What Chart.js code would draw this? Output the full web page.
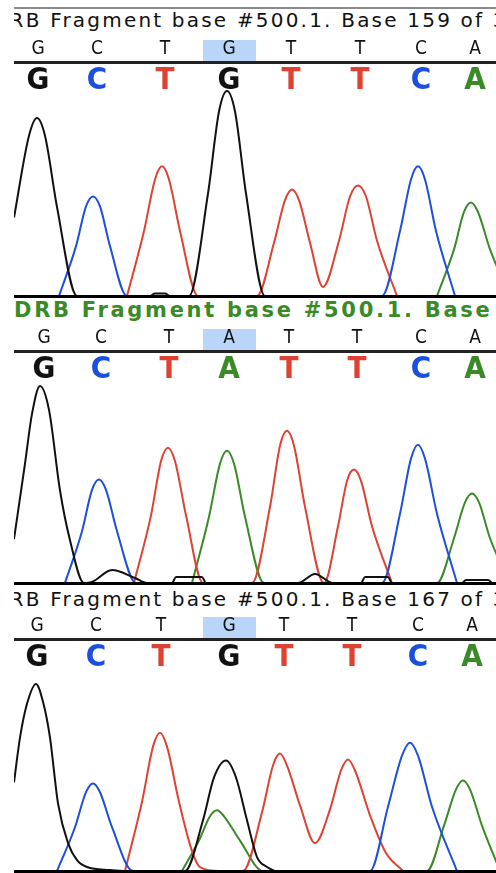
<!DOCTYPE html>
<html>
<head>
<meta charset="utf-8">
<script src="https://cdn.jsdelivr.net/npm/chart.js@4.4.0/dist/chart.umd.min.js"></script>
<style>
body { margin: 0; background: #fff; width: 496px; height: 873px; overflow: hidden; position: relative; }
.rule { position: absolute; left: 14px; width: 482px; top: 7px; height: 2px; background: #8a8a8a; }
.title { position: absolute; left: 14px; width: 482px; height: 24px; overflow: hidden; white-space: nowrap;
  font-family: 'DejaVu Sans'; font-size: 20px; line-height: 24px; color: #111; }
.title span { margin-left: -22px; letter-spacing: 2.2px; }
.title.hot { color: #3a8a28; font-weight: bold; font-size: 21px; }
.title.hot span { margin-left: 0; letter-spacing: 2.7px; }
canvas { position: absolute; left: 14px; }
</style>
</head>
<body>
<div class="rule"></div>
<div class="title" style="top:8px"><span>DRB Fragment base #500.1. Base 159 of 3</span></div>
<canvas id="trace1" width="482" height="259" style="top:39px"></canvas>
<div class="title hot" style="top:298px"><span>DRB Fragment base #500.1. Base</span></div>
<canvas id="trace2" width="482" height="257" style="top:328px"></canvas>
<div class="title" style="top:587px"><span>DRB Fragment base #500.1. Base 167 of 3</span></div>
<canvas id="trace3" width="482" height="257" style="top:616px"></canvas>

<script>
// base calls and where they sit (scan number)
const seq1 = ['G', 'C', 'T', 'G', 'T', 'T', 'C', 'A'];
const seq2 = ['G', 'C', 'T', 'A', 'T', 'T', 'C', 'A'];
const seq3 = ['G', 'C', 'T', 'G', 'T', 'T', 'C', 'A'];
const pos1 = [38, 97, 165, 229, 291, 360, 421, 475];
const pos2 = [44, 101, 169, 229, 289, 357, 421, 475];
const pos3 = [37, 96, 161, 229, 284, 352, 418, 472];

// traces: [scan, signal]
const g1 = [[14,390],[29,797],[37,885],[45,797],[57,443],[77,0],[150,0],[155,12],[165,12],[170,0],[189,0],[208,510],[219,918],[227,1020],[235,918],[246,510],[265,0],[496,0]];
const c1 = [[59,0],[76,248],[86,446],[93,495],[100,446],[110,248],[127,0],[382,0],[400,323],[411,580],[418,645],[425,580],[436,323],[455,0]];
const t1 = [[127,0],[144,323],[155,580],[162,645],[169,580],[180,323],[198,0],[257,0],[274,265],[285,477],[292,530],[299,477],[310,265],[323,45],[339,275],[350,495],[358,550],[366,495],[377,275],[397,0]];
const a1 = [[437,0],[454,232],[464,418],[471,465],[478,418],[490,232],[510,0]];

const g2 = [[14,220],[25,600],[32,850],[40,990],[49,870],[60,465],[70,215],[84,0],[92,5],[112,65],[135,25],[147,0],[172,0],[176,30],[202,30],[206,0],[298,0],[315,45],[333,0],[361,0],[365,30],[388,30],[392,0],[462,0],[466,15],[488,15],[492,0]];
const c2 = [[65,0],[82,260],[92,468],[99,520],[106,468],[117,260],[136,0],[382,0],[400,348],[411,625],[418,695],[425,625],[437,348],[457,0]];
const t2 = [[134,0],[151,340],[161,612],[168,680],[175,612],[186,340],[203,0],[252,0],[270,383],[280,690],[287,765],[294,690],[305,383],[324,0],[338,285],[347,513],[354,570],[361,513],[372,285],[392,0]];
const a2 = [[192,0],[209,333],[220,600],[227,665],[234,600],[245,333],[264,0],[437,0],[454,225],[465,405],[472,450],[479,405],[490,225],[510,0]];

const g3 = [[14,445],[20,670],[27,840],[36,940],[43,850],[50,670],[58,340],[68,140],[77,55],[87,20],[110,5],[125,0],[185,0],[203,255],[214,470],[226,555],[236,470],[247,255],[257,70],[267,20],[275,0]];
const c3 = [[57,0],[75,220],[86,396],[93,440],[100,396],[112,220],[133,0],[370,0],[388,323],[402,580],[410,645],[418,580],[432,323],[457,0]];
const t3 = [[125,0],[142,348],[153,625],[160,695],[167,625],[179,348],[192,100],[200,20],[220,0],[243,0],[262,295],[273,530],[280,590],[287,530],[300,330],[315,140],[330,310],[341,505],[348,560],[355,505],[370,280],[386,90],[403,0]];
const a3 = [[182,0],[199,153],[210,275],[217,305],[224,275],[240,153],[263,0],[427,0],[444,228],[456,410],[463,455],[470,410],[482,228],[500,0]];

const baseColor = { G: '#111111', C: '#1c4fde', T: '#de4232', A: '#3a8a28' };

function trace(base, pts) {
    return {
        label: base,
        data: pts,
        borderColor: baseColor[base],
        borderWidth: 2,
        pointRadius: 0,
        cubicInterpolationMode: 'monotone',
        clip: false
    };
}

function letterAxis(pos, seq, weight, h, font, colorFn, pad, border) {
    return {
        type: 'linear',
        position: 'top',
        min: 14,
        max: 496,
        weight: weight,
        grid: { display: false, drawTicks: false },
        border: border,
        afterBuildTicks: (s) => { s.ticks = pos.map(v => ({ value: v })); },
        afterFit: (s) => { s.height = h; },
        ticks: {
            autoSkip: false,
            maxRotation: 0,
            padding: pad,
            font: font,
            color: colorFn,
            callback: (v, i) => seq[i]
        }
    };
}

function drawPanel(id, seq, pos, traces) {
    new Chart(id, {
        type: 'line',
        data: { datasets: traces },
        plugins: [{
            id: 'hilite',
            beforeDraw(chart) {
                const s = chart.scales.xHead;
                const c = s.getPixelForValue(pos[3]);
                chart.ctx.save();
                chart.ctx.fillStyle = '#b9d5fa';
                chart.ctx.fillRect(c - 26, s.top + 1, 53, s.bottom - s.top - 2);
                chart.ctx.restore();
            }
        }],
        options: {
            responsive: false,
            animation: false,
            devicePixelRatio: 1,
            layout: { padding: 0, autoPadding: false },
            plugins: { legend: { display: false }, tooltip: { enabled: false }, title: { display: false } },
            scales: {
                x: {
                    type: 'linear', position: 'bottom', min: 14, max: 496,
                    grid: { display: false, drawTicks: false },
                    ticks: { display: false },
                    border: { display: true, width: 3, color: '#000', z: 1 },
                    afterFit: (s) => { s.height = 2; }
                },
                xHead: letterAxis(pos, seq, 2, 23,
                    { family: "'DejaVu Sans Condensed', 'DejaVu Sans'", size: 19, lineHeight: 1 },
                    '#111', 3, { display: true, width: 3, color: '#222' }),
                xBig: letterAxis(pos, seq, 1, 33,
                    { family: "'DejaVu Sans Condensed', 'DejaVu Sans'", size: 31, weight: 'bold', lineHeight: 1 },
                    (ctx) => baseColor[seq[ctx.index]], -1, { display: false }),
                y: { min: 0, max: 1000, display: false }
            }
        }
    });
}

drawPanel('trace1', seq1, pos1, [trace('G', g1), trace('C', c1), trace('T', t1), trace('A', a1)]);
drawPanel('trace2', seq2, pos2, [trace('G', g2), trace('C', c2), trace('T', t2), trace('A', a2)]);
drawPanel('trace3', seq3, pos3, [trace('G', g3), trace('C', c3), trace('T', t3), trace('A', a3)]);
</script>
</body>
</html>
